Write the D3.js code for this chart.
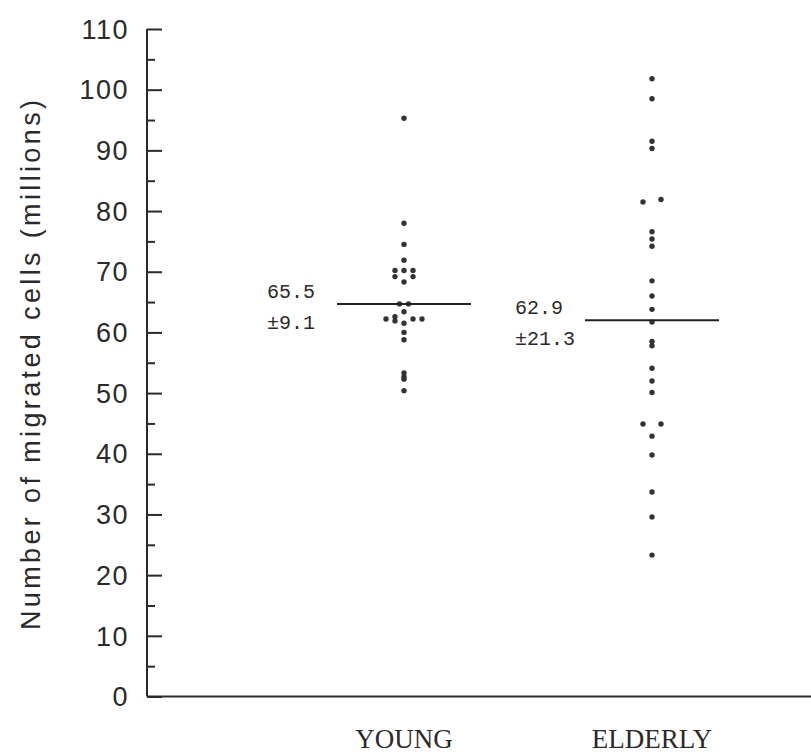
<!DOCTYPE html>
<html>
<head>
<meta charset="utf-8">
<script src="https://cdn.jsdelivr.net/npm/d3@7"></script>
<style>
  body { margin: 0; background: #fff; }
  svg { display: block; }
  .axis-line { stroke: #2a2a2a; stroke-width: 2; }
  .tick-label { font-family: 'Liberation Sans', Arial, sans-serif; font-size: 27px; fill: #2a2a2a; letter-spacing: 1.5px; }
  .y-title { font-family: 'Liberation Sans', Arial, sans-serif; font-size: 27px; fill: #2a2a2a; }
  .group-label { font-family: 'Liberation Serif', serif; font-size: 27px; fill: #2a2a2a; }
  .stat { font-family: 'Liberation Mono', monospace; font-size: 20px; fill: #2a2a2a; }
  .mean-line { stroke: #222; stroke-width: 2; }
  .dot { fill: #333; }
</style>
</head>
<body>
<script>
// groups on the x axis
const groups = ["YOUNG", "ELDERLY"];

// values, with a side slot where dots sit next to each other
const youngValues = [95.3, 78.0, 74.5, 71.9, 70.2, 70.2, 70.2, 69.2, 69.2, 68.3,
  64.7, 64.7, 63.4, 62.6, 61.9, 62.2, 62.2, 62.2, 61.5, 60.0, 58.8, 53.3, 52.7, 52.3, 50.4];
const youngSlots = [0, 0, 0, 0, -1, 0, 1, -1, 1, 0,
  -0.5, 0.5, 0, -1, -1, -2, 1, 2, 0, 0, 0, 0, 0, 0, 0];

const elderlyValues = [101.8, 98.5, 91.5, 90.3, 81.5, 81.9, 76.6, 75.4, 74.2, 68.5,
  66.0, 63.8, 61.7, 58.5, 57.8, 54.1, 52.0, 50.1, 44.9, 44.9, 42.9, 39.8, 33.7, 29.6, 23.3];
const elderlySlots = [0, 0, 0, 0, -1, 1, 0, 0, 0, 0,
  0, 0, 0, 0, 0, 0, 0, 0, -1, 1, 0, 0, 0, 0, 0];

// where the mean bar is drawn, and its printed text
const meanLineValues = [64.7, 62.0];
const meanLabels = ["65.5", "62.9"];
const sdLabels = ["\u00b19.1", "\u00b121.3"];

const yMajorTicks = [0, 10, 20, 30, 40, 50, 60, 70, 80, 90, 100, 110];
const yMinorTicks = [5, 15, 25, 35, 45, 55, 65, 75, 85, 95, 105];
const yTitle = "Number of migrated cells (millions)";

const width = 811;
const height = 755;
const margin = { left: 147, top: 29, bottom: 58.5 };

const svg = d3.select("body").append("svg")
  .attr("width", width)
  .attr("height", height);

const y = d3.scaleLinear()
  .domain([0, 110])
  .range([height - margin.bottom, margin.top]);

const x = d3.scalePoint()
  .domain(groups)
  .range([404, 652]);

const slotWidth = 9;
const meanHalfWidth = 67;

// y axis: ticks point inwards, labels drawn separately
const yAxis = svg.append("g")
  .attr("transform", `translate(${margin.left},0)`);

yAxis.call(d3.axisRight(y).tickValues(yMajorTicks).tickSize(15).tickFormat(""))
  .call(g => g.select(".domain").remove());

yAxis.append("g")
  .call(d3.axisRight(y).tickValues(yMinorTicks).tickSize(8).tickFormat(""))
  .call(g => g.select(".domain").remove());

yAxis.selectAll(".tick line").attr("class", "axis-line");

yAxis.append("line")
  .attr("class", "axis-line")
  .attr("y1", y(110))
  .attr("y2", y(0));

yAxis.selectAll(".tick-label")
  .data(yMajorTicks)
  .join("text")
  .attr("class", "tick-label")
  .attr("x", -18)
  .attr("y", d => y(d))
  .attr("dy", "0.36em")
  .attr("text-anchor", "end")
  .text(d => d);

// x axis line runs to the page edge
svg.append("line")
  .attr("class", "axis-line")
  .attr("x1", margin.left)
  .attr("x2", width)
  .attr("y1", y(0))
  .attr("y2", y(0));

svg.append("text")
  .attr("class", "y-title")
  .attr("transform", `translate(40,${365}) rotate(-90)`)
  .attr("text-anchor", "middle")
  .attr("textLength", 530)
  .attr("lengthAdjust", "spacing")
  .text(yTitle);

svg.selectAll(".group-label")
  .data(groups)
  .join("text")
  .attr("class", "group-label")
  .attr("x", d => x(d))
  .attr("y", 748)
  .attr("text-anchor", "middle")
  .text(d => d);

const series = [
  { group: groups[0], values: youngValues, slots: youngSlots },
  { group: groups[1], values: elderlyValues, slots: elderlySlots }
];

series.forEach(s => {
  svg.append("g")
    .selectAll("circle")
    .data(s.values)
    .join("circle")
    .attr("class", "dot")
    .attr("cx", (d, i) => x(s.group) + s.slots[i] * slotWidth)
    .attr("cy", d => y(d))
    .attr("r", 2.7);
});

const means = svg.append("g")
  .selectAll("g")
  .data(groups)
  .join("g")
  .attr("transform", (d, i) => `translate(${x(d)},${y(meanLineValues[i])})`);

means.append("line")
  .attr("class", "mean-line")
  .attr("x1", -meanHalfWidth)
  .attr("x2", meanHalfWidth);

means.append("text")
  .attr("class", "stat")
  .attr("x", -137)
  .attr("y", -6)
  .text((d, i) => meanLabels[i]);

means.append("text")
  .attr("class", "stat")
  .attr("x", -137)
  .attr("y", 25)
  .text((d, i) => sdLabels[i]);
</script>
</body>
</html>
